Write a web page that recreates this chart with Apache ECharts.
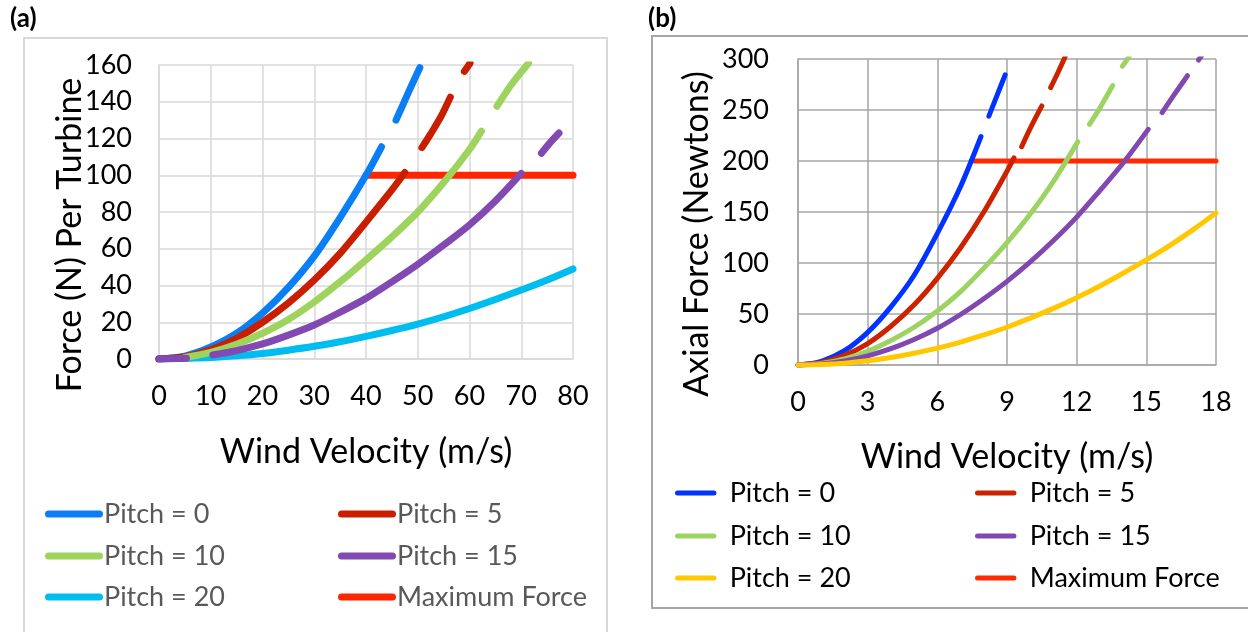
<!DOCTYPE html>
<html>
<head>
<meta charset="utf-8">
<script src="https://cdn.jsdelivr.net/npm/echarts@6/dist/echarts.min.js"></script>
<style>
  html, body { margin: 0; padding: 0; background: #ffffff; }
  #chart { width: 1248px; height: 632px; }
</style>
</head>
<body>
<div id="chart"></div>
<script>
// ---- Panel (a): force per turbine vs wind velocity ----
// '-' splits a curve into its solid part and the dashed extrapolation strokes
const aPitch0  = [[0,0],[5,1.6],[10,6.5],[15,14],[20,25],[25,39],[30,56],[35,77],[40,100],[43,115.5],
                  [44.5,'-'],[45.8,130],[47,137.5],[48.5,147],[50.4,158.5]];
const aPitch5  = [[0,0],[5,1.2],[10,5],[15,11.2],[20,20],[25,30.5],[30,43],[35,57.5],[40,74.5],[45,92],[47.5,101.5],
                  [49,'-'],[50.8,115],[52.5,122.5],[54.5,132],[56.3,142.5],
                  [57.5,'-'],[59,156.5],[60.1,161]];
const aPitch10 = [[5,0.8],[10,3.6],[15,8],[20,14],[25,21.5],[30,31],[35,42],[40,54],[45,66.5],[50,80],[55,96],[60,114],[62.3,124],
                  [63.5,'-'],[65.3,137.5],[68,149],[71.4,161]];
const aPitch15 = [[0,0],[5.3,0.4],[7,'-'],[10.4,2.2],[15,4.6],[20,8.2],[25,13],[30,18.5],[35,25.5],[40,33],[45,42],[50,51.5],[55,62],[60,73],[65,86],[70,101],
                  [72,'-'],[73.9,112],[75.5,117.5],[77.3,123]];
const aPitch20 = [[0,0],[10,0.8],[15,1.7],[20,3],[25,4.8],[30,6.9],[35,9.4],[40,12.3],[45,15.5],[50,19],[55,23],[60,27.5],[65,32.4],[70,37.5],[75,43],[80,49]];
const aMaxForce = [[40,100],[80,100]];
const aVelTicks = [0,10,20,30,40,50,60,70,80];
const aForceTicks = [0,20,40,60,80,100,120,140,160];

// ---- Panel (b): axial force vs wind velocity ----
const bPitch0  = [[0,0],[1,3.6],[2,14],[3,32],[4,57],[5,88],[6,129],[7,175],[7.88,224],
                  [8.05,'-'],[8.22,244],[8.6,266],[8.92,284.5]];
const bPitch5  = [[0,0],[1,2.4],[2,9.4],[3,21],[4,38],[5,59],[6,85],[7,115],[8,150],[9,190],[9.3,203],
                  [9.45,'-'],[9.63,214],[10,232],[10.5,254],
                  [10.7,'-'],[10.88,272],[11.2,287],[11.5,302]];
const bPitch10 = [[0,0],[1,1.5],[2,6],[3,13.5],[4,24],[5,37],[6,53],[7,72],[8,95],[9,120],[10,148],[11,180],[12.05,219],
                  [12.3,'-'],[12.55,236],[13,252],[13.55,274],
                  [13.75,'-'],[13.97,293],[14.25,302]];
const bPitch15 = [[0,0],[1,1],[2,4],[3,9],[4,16],[5,25],[6,36],[7,49.5],[8,65],[9,82],[10,101],[11,122],[12,145],[13,171],[14,198],[15.08,231],
                  [15.4,'-'],[15.68,247.5],[16.2,265],[16.77,283.6],
                  [17,'-'],[17.25,299],[17.4,304]];
const bPitch20 = [[0,0],[1,0.5],[2,1.8],[3,4.1],[4,7.3],[5,11.5],[6,16.5],[7,22.5],[8,29.5],[9,37],[10,46],[11,55.5],[12,66],[13,77.5],[14,90],[15,103],[16,117],[17,132.5],[18,149]];
const bMaxForce = [[7.6,200],[18,200]];
const bVelTicks = [0,3,6,9,12,15,18];
const bForceTicks = [0,50,100,150,200,250,300];

const FONT = 'Lato, "Open Sans", sans-serif';
const PILL = 'path://M3.5,0H54.5A3.5,3.5,0,0,1,54.5,7H3.5A3.5,3.5,0,0,1,3.5,0Z';

const colA = { p0:'#0a7ff5', p5:'#c91f00', p10:'#9ed45e', p15:'#8149b1', p20:'#00bdf0', max:'#ff2500' };
const colB = { p0:'#0033ff', p5:'#cc2200', p10:'#9dd461', p15:'#8048b0', p20:'#ffc800', max:'#ff2a00' };

function lineSeries(name, data, color, width, gridIdx) {
  return {
    type: 'line', name, data, xAxisIndex: gridIdx, yAxisIndex: gridIdx,
    smooth: 0.3, showSymbol: false, symbol: 'none', connectNulls: false,
    lineStyle: { color, width, cap: 'round', join: 'round' },
    itemStyle: { color },
    emphasis: { disabled: true }, silent: true, animation: false
  };
}

function legendItem(name, left, centerY, iconH, textColor, textShift) {
  return {
    data: [name], left, top: centerY - 14, orient: 'horizontal', padding: 0,
    selectedMode: false, icon: PILL, itemWidth: 58, itemHeight: iconH,
    itemStyle: { borderWidth: 0 },
    textStyle: { fontFamily: FONT, fontSize: 27, color: textColor, lineHeight: 28, padding: [0, 0, 0, textShift] }
  };
}

function valueAxis(gridIdx, min, max, interval, gridColor, labelMargin, extra) {
  return Object.assign({
    type: 'value', gridIndex: gridIdx, min, max, interval,
    axisLine: { show: true, lineStyle: { color: gridColor, width: 1.5 } },
    axisTick: { show: false },
    splitLine: { show: true, lineStyle: { color: gridColor, width: 1.5 } },
    axisLabel: { fontFamily: FONT, fontSize: 27, color: '#000', margin: labelMargin }
  }, extra);
}

function axisTitle(text, x, y) {
  return {
    type: 'text', x, y, rotation: Math.PI / 2, silent: true,
    style: { text, font: '34px ' + FONT, fill: '#000', textAlign: 'center', textVerticalAlign: 'middle' }
  };
}

const chart = echarts.init(document.getElementById('chart'), null, { renderer: 'canvas' });

chart.setOption({
  animation: false,
  backgroundColor: '#ffffff',
  graphic: [
    { type: 'rect', shape: { x: 24, y: 38, width: 583, height: 610 }, style: { fill: 'none', stroke: '#d9d9d9', lineWidth: 2 }, silent: true },
    { type: 'rect', shape: { x: 652, y: 36, width: 610, height: 572 }, style: { fill: 'none', stroke: '#a6a6a6', lineWidth: 2 }, silent: true },
    { type: 'text', left: 10, top: 6, style: { text: '(a)', font: 'bold 26px ' + FONT, fill: '#000' } },
    { type: 'text', left: 648, top: 6, style: { text: '(b)', font: 'bold 26px ' + FONT, fill: '#000' } },
    axisTitle('Force (N) Per Turbine', 70, 235),
    axisTitle('Axial Force (Newtons)', 697, 234)
  ],
  grid: [
    { left: 159, top: 65, width: 414, height: 294, containLabel: false },
    { left: 798, top: 59, width: 418, height: 306, containLabel: false }
  ],
  xAxis: [
    valueAxis(0, aVelTicks[0], aVelTicks[aVelTicks.length - 1], aVelTicks[1] - aVelTicks[0], '#d9d9d9', 24, {
      name: 'Wind Velocity (m/s)', nameLocation: 'middle', nameGap: 76,
      nameTextStyle: { fontFamily: FONT, fontSize: 34, color: '#000' }
    }),
    valueAxis(1, bVelTicks[0], bVelTicks[bVelTicks.length - 1], bVelTicks[1] - bVelTicks[0], '#a6a6a6', 24, {
      name: 'Wind Velocity (m/s)', nameLocation: 'middle', nameGap: 75,
      nameTextStyle: { fontFamily: FONT, fontSize: 34, color: '#000' }
    })
  ],
  yAxis: [
    valueAxis(0, aForceTicks[0], aForceTicks[aForceTicks.length - 1], aForceTicks[1] - aForceTicks[0], '#d9d9d9', 27),
    valueAxis(1, bForceTicks[0], bForceTicks[bForceTicks.length - 1], bForceTicks[1] - bForceTicks[0], '#a6a6a6', 29)
  ],
  legend: [
    legendItem('Pitch = 0', 45, 514, 7, '#595959', -4),
    legendItem('Pitch = 10', 45, 556, 7, '#595959', -4),
    legendItem('Pitch = 20', 45, 597, 7, '#595959', -4),
    legendItem('Pitch = 5', 338, 514, 7, '#595959', -4),
    legendItem('Pitch = 15', 338, 556, 7, '#595959', -4),
    legendItem('Maximum Force', 338, 597, 7, '#595959', -4),
    legendItem('Pitch = 0 ', 675, 493, 5, '#000', 0),
    legendItem('Pitch = 10 ', 675, 536, 5, '#000', 0),
    legendItem('Pitch = 20 ', 675, 578, 5, '#000', 0),
    legendItem('Pitch = 5 ', 975, 493, 5, '#000', 0),
    legendItem('Pitch = 15 ', 975, 536, 5, '#000', 0),
    legendItem('Maximum Force ', 975, 578, 5, '#000', 0)
  ],
  series: [
    lineSeries('Maximum Force', aMaxForce, colA.max, 7, 0),
    lineSeries('Pitch = 20', aPitch20, colA.p20, 7, 0),
    lineSeries('Pitch = 0', aPitch0, colA.p0, 7, 0),
    lineSeries('Pitch = 5', aPitch5, colA.p5, 7, 0),
    lineSeries('Pitch = 10', aPitch10, colA.p10, 7, 0),
    lineSeries('Pitch = 15', aPitch15, colA.p15, 7, 0),

    lineSeries('Maximum Force ', bMaxForce, colB.max, 5, 1),
    lineSeries('Pitch = 0 ', bPitch0, colB.p0, 5, 1),
    lineSeries('Pitch = 5 ', bPitch5, colB.p5, 5, 1),
    lineSeries('Pitch = 10 ', bPitch10, colB.p10, 5, 1),
    lineSeries('Pitch = 15 ', bPitch15, colB.p15, 5, 1),
    lineSeries('Pitch = 20 ', bPitch20, colB.p20, 5, 1)
  ]
});
</script>
</body>
</html>
